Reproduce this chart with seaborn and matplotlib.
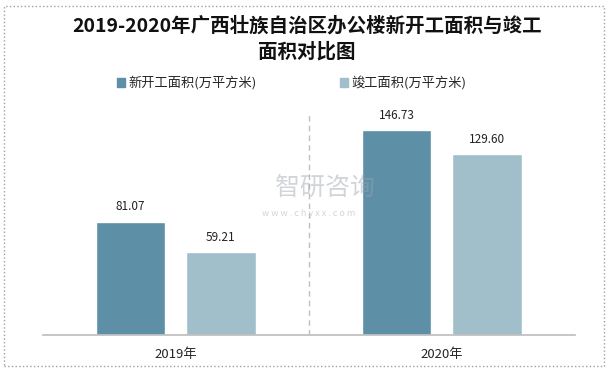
import matplotlib
matplotlib.use('Agg')
import matplotlib.pyplot as plt
import matplotlib.patches as mpatches
import seaborn as sns
import pandas as pd

years = ['2019年', '2020年']
series = ['新开工面积(万平方米)', '竣工面积(万平方米)']
new_start = [81.07, 146.73]
completed = [59.21, 129.60]
colors = ['#5d90a7', '#a1bfcb']

df = pd.DataFrame({
    'year': years * 2,
    'series': [series[0]] * 2 + [series[1]] * 2,
    'value': new_start + completed,
})

sns.set_theme(style='white')
plt.rcParams['font.family'] = ['Noto Sans CJK SC', 'DejaVu Sans']

fig = plt.figure(figsize=(6.14, 3.70), dpi=100)
ax = fig.add_axes([42.5 / 614, 1 - 334.6 / 370, (575 - 42.5) / 614, (334.6 - 112) / 370])

sns.barplot(data=df, x='year', y='value', hue='series', palette=colors,
            width=0.68, gap=0.23, ax=ax, legend=False, saturation=1)

# watermark drawn over the marks, semi-transparent
ax.text(0.53, 0.66, '智研咨询', transform=ax.transAxes, ha='center', va='center',
        fontsize=18, color='#9aa3ad', alpha=0.45, zorder=5)
ax.text(0.50, 0.545, 'w w w . c h y x x . c o m', transform=ax.transAxes,
        ha='center', va='center', fontsize=6.5, color='#9aa3ad', alpha=0.45, zorder=5)

for cont in ax.containers:
    ax.bar_label(cont, fmt='%.2f', padding=6, fontsize=8.5, color='#222222')

ax.set_ylim(0, 160)
ax.set_xlim(-0.5, 1.5)
ax.set_yticks([])
ax.set_xlabel('')
ax.set_ylabel('')
ax.tick_params(axis='x', length=0, pad=10, labelsize=9.5)
for s in ['top', 'left', 'right']:
    ax.spines[s].set_visible(False)
ax.spines['bottom'].set_color('#bfbfbf')
ax.axvline(0.5, ymin=0, ymax=1, color='#bfbfbf', linestyle=(0, (4, 3)), linewidth=1)

fig.text(0.5, 1 - 26 / 370, '2019-2020年广西壮族自治区办公楼新开工面积与竣工',
         ha='center', va='center', fontsize=14, fontweight='bold', color='#111111')
fig.text(0.5, 1 - 52 / 370, '面积对比图',
         ha='center', va='center', fontsize=14, fontweight='bold', color='#111111')

handles = [mpatches.Patch(color=c, label=l) for c, l in zip(colors, series)]
fig.legend(handles=handles, loc='center', bbox_to_anchor=(0.475, 1 - 83 / 370), ncol=2,
           frameon=False, fontsize=9.5, handlelength=0.6, handleheight=0.6,
           handletextpad=0.3, columnspacing=6.3)

fig.patches.append(mpatches.Rectangle((4 / 614, 4 / 370), 600 / 614, 360 / 370,
                                      transform=fig.transFigure, fill=False,
                                      edgecolor='#a0a0a0', linestyle=':', linewidth=1))

fig.savefig('out.png', dpi=100)
